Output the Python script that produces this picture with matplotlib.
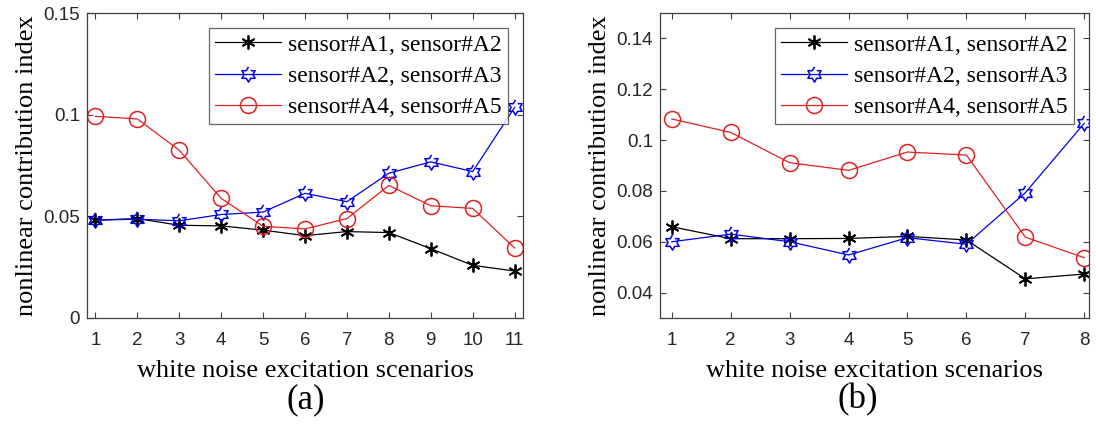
import numpy as np
import matplotlib
matplotlib.use("Agg")
import matplotlib.pyplot as plt

# scenario numbers
x_a = [1, 2, 3, 4, 5, 6, 7, 8, 9, 10, 11]
x_b = [1, 2, 3, 4, 5, 6, 7, 8]

# (a) nonlinear contribution index
a_12 = [0.0481, 0.0489, 0.0456, 0.0453, 0.0432, 0.0405, 0.0425, 0.0420, 0.0341, 0.0259, 0.0231]
a_23 = [0.0481, 0.0486, 0.0478, 0.0509, 0.0521, 0.0613, 0.0572, 0.0712, 0.0768, 0.0720, 0.1036]
a_45 = [0.0992, 0.0979, 0.0825, 0.0588, 0.0451, 0.0438, 0.0489, 0.0652, 0.0552, 0.0539, 0.0344]

# (b)
b_12 = [0.0659, 0.0612, 0.0612, 0.0613, 0.0621, 0.0607, 0.0454, 0.0473]
b_23 = [0.0600, 0.0630, 0.0600, 0.0548, 0.0616, 0.0590, 0.0793, 0.1066]
b_45 = [0.1083, 0.1030, 0.0911, 0.0881, 0.0953, 0.0941, 0.0618, 0.0537]

labels = ['sensor#A1, sensor#A2', 'sensor#A2, sensor#A3', 'sensor#A4, sensor#A5']

serif = 'Liberation Serif'
sans = 'Liberation Sans'
axcol = '#404040'

# six-pointed open star (MATLAB hexagram)
ang = np.pi / 2 + np.arange(12) * np.pi / 6
rad = np.where(np.arange(12) % 2 == 0, 1.0, 0.577)
hexagram = np.column_stack([rad * np.cos(ang), rad * np.sin(ang)])

fig = plt.figure(figsize=(10.96, 4.25), dpi=100)
ax1 = fig.add_axes([0.0794, 0.2518, 0.3978, 0.7176])
ax2 = fig.add_axes([0.6022, 0.2518, 0.3914, 0.7176])


def draw(ax, x, s1, s2, s3):
    ax.plot(x, s1, color='black', lw=0.9, marker=(6, 2, 0), ms=10, mew=1.3, label=labels[0])
    ax.plot(x, s2, color='#0000e6', lw=0.9, marker=hexagram, ms=11, mfc='none', mew=1.1, label=labels[1])
    ax.plot(x, s3, color='#e02020', lw=0.9, marker='o', ms=11.5, mfc='none', mew=1.1, label=labels[2])
    ax.tick_params(direction='in', top=True, right=True, length=4, width=0.8,
                   colors=axcol, labelcolor='#262626', labelsize=13.5)
    ax.tick_params(axis='x', pad=10)
    ax.tick_params(axis='y', pad=5)
    for sp in ax.spines.values():
        sp.set_color(axcol)
        sp.set_linewidth(0.9)
    ax.set_xlabel('white noise excitation scenarios', family=serif, fontsize=19, labelpad=8)
    ax.set_ylabel('nonlinear contribution index', family=serif, fontsize=19, labelpad=4)
    leg = ax.legend(loc='upper right', prop={'family': serif, 'size': 17}, frameon=True,
                    fancybox=False, edgecolor=axcol, handlelength=2.8, labelspacing=0.42,
                    borderpad=0.25, handletextpad=0.3, borderaxespad=0.64)
    leg.get_frame().set_linewidth(0.9)


draw(ax1, x_a, a_12, a_23, a_45)
ax1.set_xlim(0.8, 11.2)
ax1.set_ylim(0, 0.15)
ax1.set_xticks(x_a)
ax1.set_yticks([0, 0.05, 0.1, 0.15])
ax1.set_yticklabels(['0', '0.05', '0.1', '0.15'], family=sans)
ax1.set_xticklabels([str(v) for v in x_a], family=sans)

draw(ax2, x_b, b_12, b_23, b_45)
ax2.set_xlim(0.8, 8.08)
ax2.set_ylim(0.03, 0.15)
ax2.set_xticks(x_b)
ax2.set_yticks([0.04, 0.06, 0.08, 0.1, 0.12, 0.14])
ax2.set_yticklabels(['0.04', '0.06', '0.08', '0.1', '0.12', '0.14'], family=sans)
ax2.set_xticklabels([str(v) for v in x_b], family=sans)

fig.text(306 / 1096, 1 - 400 / 425, '(a)', family=serif, fontsize=25, ha='center', va='center')
fig.text(858 / 1096, 1 - 400 / 425, '(b)', family=serif, fontsize=25, ha='center', va='center')

fig.savefig('out.png', dpi=100)
